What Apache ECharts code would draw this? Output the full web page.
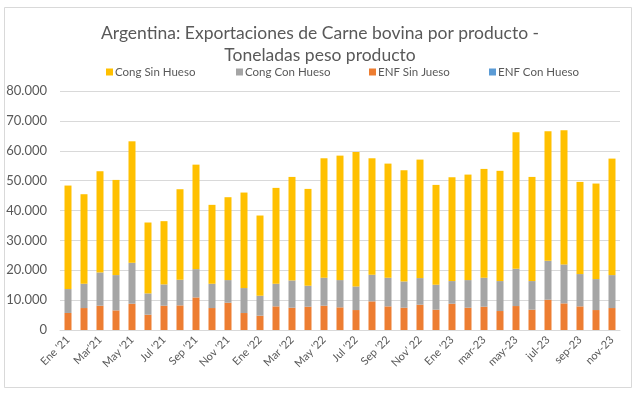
<!DOCTYPE html>
<html><head><meta charset="utf-8">
<script src="https://cdn.jsdelivr.net/npm/echarts@6/dist/echarts.min.js"></script>
<style>html,body{margin:0;padding:0;background:#fff}#c{width:640px;height:395px}</style>
</head><body><div id="c"></div>
<script>
const categories = ["Ene '21","Feb '21","Mar'21","Abr '21","May '21","Jun '21","Jul '21","Ago '21","Sep '21","Oct '21","Nov '21","Dic '21",
"Ene '22","Feb '22","Mar '22","Abr '22","May '22","Jun '22","Jul '22","Ago '22","Sep '22","Oct '22","Nov' 22","Dic '22",
"Ene '23","feb-23","mar-23","abr-23","may-23","jun-23","jul-23","ago-23","sep-23","oct-23","nov-23"];
const enfSinJueso = [5700,7350,8130,6570,8800,5120,8130,8240,10900,7350,9130,5680,
4790,7910,7460,7800,8130,7580,6680,9580,7910,7460,8470,6800,
8800,7460,7800,6350,8020,6800,10140,8910,7910,6680,7350];
const enfConHueso = [0,0,0,0,0,0,0,0,0,0,0,0,0,0,0,0,0,0,0,0,0,0,0,0,0,0,0,0,0,0,0,0,0,0,0];
const congConHueso = [8000,8130,11140,11810,13700,7130,7130,8580,9470,8130,7580,8360,
6680,7570,9140,7020,9360,9130,7910,8910,9580,8800,8910,8350,
7580,9250,9690,10030,12480,9580,13030,13040,10810,10360,11030];
const congSinHueso = [34650,29970,33870,31860,40660,23730,21170,30300,34980,26410,27740,31970,
26850,32090,34640,32410,39990,41660,45010,38990,38210,37210,39660,33420,
34750,35310,36430,36900,45670,34860,43340,44890,30850,31980,38990];
const yTicks = [0,10000,20000,30000,40000,50000,60000,70000,80000];
const legendNames = ['Cong Sin Hueso','Cong Con Hueso','ENF Sin Jueso','ENF Con Hueso'];

const font = 'Lato, "Open Sans", sans-serif';
const chart = echarts.init(document.getElementById('c'), null, {renderer:'canvas'});
const barW = 7;
const legendLefts = [101, 231, 364, 484];
chart.setOption({
  animation:false,
  backgroundColor:'#fff',
  title:{
    text:'Argentina: Exportaciones de Carne bovina por producto -\nToneladas peso producto',
    left:'center', top:17,
    textStyle:{fontFamily:font, fontSize:17.5, fontWeight:'normal', color:'#595959', lineHeight:22}
  },
  legend: legendNames.map((n,i)=>({
    data:[n], left:legendLefts[i], top:61, itemWidth:7, itemHeight:7, itemGap:0, icon:'rect',
    textStyle:{fontFamily:font, fontSize:11.5, color:'#595959', padding:[0,0,0,-3]}
  })),
  grid:{left:60, right:20, top:91, bottom:65, containLabel:false},
  xAxis:{
    type:'category', data:categories,
    axisLine:{lineStyle:{color:'#D9D9D9'}},
    axisTick:{show:false},
    axisLabel:{interval:1, rotate:45, fontFamily:font, fontSize:11, color:'#595959', margin:8}
  },
  yAxis:{
    type:'value', min:0, max:80000, interval:10000,
    axisLine:{show:false}, axisTick:{show:false},
    splitLine:{lineStyle:{color:'#D9D9D9'}},
    axisLabel:{fontFamily:font, fontSize:13, color:'#595959', margin:13,
      formatter:v=>yTicks.includes(v)? (v===0?'0':(v/1000)+'.000'):''}
  },
  series:[
    {name:'ENF Sin Jueso', type:'bar', stack:'t', data:enfSinJueso, barWidth:barW, itemStyle:{color:'#ED7D31'}},
    {name:'ENF Con Hueso', type:'bar', stack:'t', data:enfConHueso, barWidth:barW, itemStyle:{color:'#5B9BD5'}},
    {name:'Cong Con Hueso', type:'bar', stack:'t', data:congConHueso, barWidth:barW, itemStyle:{color:'#A5A5A5'}},
    {name:'Cong Sin Hueso', type:'bar', stack:'t', data:congSinHueso, barWidth:barW, itemStyle:{color:'#FFC000'}}
  ],
  graphic:[{type:'rect', shape:{x:4.5,y:7.5,width:627,height:380}, style:{fill:'none', stroke:'#D9D9D9', lineWidth:1}, silent:true, z:-1}]
});
</script></body></html>
